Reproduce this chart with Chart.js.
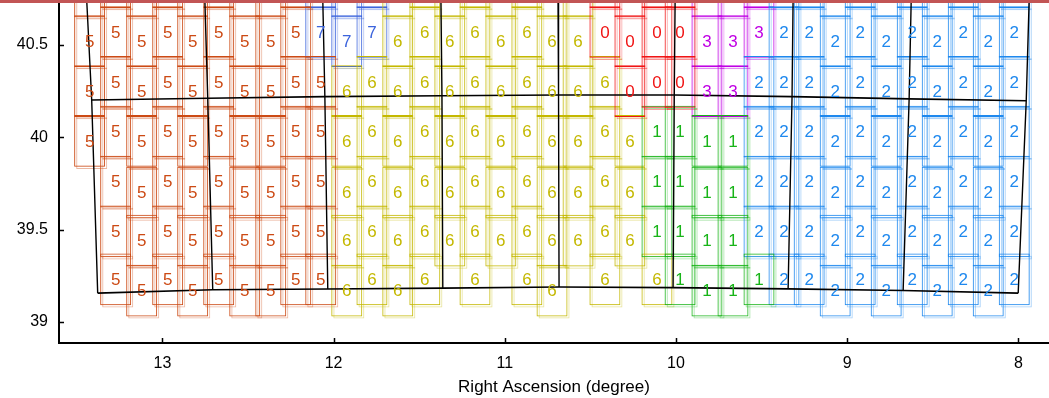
<!DOCTYPE html>
<html>
<head>
<meta charset="utf-8">
<title>Right Ascension fields</title>
<script src="https://cdn.jsdelivr.net/npm/chart.js"></script>
<style>
  html, body { margin: 0; padding: 0; background: #fff; }
</style>
</head>
<body>
<canvas id="fieldChart" width="1049" height="398"></canvas>
<script>
// tick labels
const xTicks = [8, 9, 10, 11, 12, 13];
const yTicks = [39, 39.5, 40, 40.5];

// tile columns (RA of the column centre), U = high row set, D = low row set
const columnRA = [13.425, 13.273, 13.121, 12.969, 12.823, 12.671, 12.519, 12.367, 12.221, 12.075,
  11.923, 11.776, 11.625, 11.467, 11.321, 11.174, 11.023, 10.871, 10.724, 10.572,
  10.415, 10.269, 10.111, 9.976, 9.819, 9.667, 9.515, 9.369, 9.222, 9.070,
  8.924, 8.772, 8.620, 8.474, 8.322, 8.176, 8.024];
const columnSet = 'DUDUDUDDUU' + 'DUDUDUDUDD' + 'UDUUDDUUUD' + 'UDUDUDU';

// Dec of tile centres, row 0 (above the frame) to row 6
const decUp = [40.84, 40.57, 40.30, 40.03, 39.76, 39.49, 39.23];
const decDown = [40.79, 40.52, 40.25, 39.98, 39.70, 39.44, 39.17];

// group number of each tile, row 0..6 ('.' = no tile)
const columnGroups = [
  '5555...', '5555555', '5555555', '5555555', '5555555', '5555555', '5555555', '5555555', '5555555',
  '7755555', '7766666', '7766666', '6666666', '6666666', '666666.', '6666666', '666666.', '6666666',
  '6666666', '666666.', '0066666', '000666.', '0001116', '0001111', '3331111', '3331111', '3322221',
  '2222222', '2222222', '2222222', '2222222', '2222222', '2222222', '2222222', '2222222', '2222222', '2222222'
];
const groupColors = {
  '0': '#f01414', '1': '#18b418', '2': '#1e88ee', '3': '#c000e4',
  '5': '#cc4a14', '6': '#c4b800', '7': '#3c64dc'
};

// survey boundary: top ends, middle crossing and bottom ends of the vertical edges
const vTopDec = 40.74;
const vTopRA = [13.442, 12.752, 12.063, 11.373, 10.689, 10.005, 9.316, 8.626, 7.937];
const midRA = [13.413, 12.735, 12.051, 11.367, 10.686, 10.010, 9.322, 8.638, 7.954];
const midDec = [40.202, 40.211, 40.220, 40.225, 40.229, 40.229, 40.220, 40.208, 40.198];
const lowRA = [13.378, 12.706, 12.034, 11.362, 10.683, 10.017, 9.345, 8.673, 8.001];
const lowDec = [39.156, 39.174, 39.178, 39.183, 39.189, 39.186, 39.179, 39.170, 39.156];

const FONT = "'Liberation Sans', Arial, Helvetica, sans-serif";
const tileHalfH = 0.14;
const ditherRA = 0.012, ditherDec = 0.012;

// collect tiles by group
const tiles = {};
columnRA.forEach((ra, c) => {
  const decs = columnSet[c] === 'D' ? decDown : decUp;
  columnGroups[c].split('').forEach((g, r) => {
    if (g === '.') return;
    (tiles[g] = tiles[g] || []).push({ ra: ra, dec: decs[r], g: g });
  });
});

function alpha(hex, a) {
  const n = parseInt(hex.slice(1), 16);
  return 'rgba(' + (n >> 16) + ',' + ((n >> 8) & 255) + ',' + (n & 255) + ',' + a + ')';
}

const datasets = [];
Object.keys(tiles).forEach(g => {
  const base = { type: 'bar', grouped: false, barThickness: 31, borderWidth: 1, borderSkipped: false,
    backgroundColor: 'rgba(0,0,0,0)', inflateAmount: 0, clip: 0, order: 2 };
  datasets.push(Object.assign({}, base, {
    data: tiles[g].map(t => ({ x: t.ra, y: [t.dec - tileHalfH, t.dec + tileHalfH] })),
    borderColor: groupColors[g]
  }));
  datasets.push(Object.assign({}, base, {
    data: tiles[g].map(t => ({ x: t.ra - ditherRA, y: [t.dec - ditherDec - tileHalfH, t.dec - ditherDec + tileHalfH] })),
    borderColor: alpha(groupColors[g], 0.4), order: 3
  }));
});

const lineStyle = { type: 'line', borderColor: '#000', borderWidth: 1.6, pointRadius: 0, fill: false, tension: 0, order: 1 };
datasets.push(Object.assign({}, lineStyle, { data: midRA.map((ra, i) => ({ x: ra, y: midDec[i] })) }));
datasets.push(Object.assign({}, lineStyle, { data: lowRA.map((ra, i) => ({ x: ra, y: lowDec[i] })) }));
vTopRA.forEach((ra, k) => {
  datasets.push(Object.assign({}, lineStyle, { borderWidth: 1.4, data: [
    { x: ra, y: vTopDec }, { x: midRA[k], y: midDec[k] }, { x: lowRA[k], y: lowDec[k] }
  ] }));
});

// tile numbers, inward ticks, page band
const decorations = {
  id: 'decorations',
  beforeDraw(chart) {
    const c = chart.ctx;
    c.save();
    c.fillStyle = '#fff';
    c.fillRect(0, 0, chart.width, chart.height);
    c.restore();
  },
  afterDatasetsDraw(chart) {
    const c = chart.ctx, a = chart.chartArea, xs = chart.scales.x, ys = chart.scales.y;
    c.save();
    c.beginPath();
    c.rect(a.left, a.top, a.right - a.left, a.bottom - a.top);
    c.clip();
    c.font = '17px ' + FONT;
    c.textAlign = 'center';
    c.textBaseline = 'middle';
    Object.keys(tiles).forEach(g => {
      c.fillStyle = groupColors[g];
      tiles[g].forEach(t => c.fillText(g, xs.getPixelForValue(t.ra), ys.getPixelForValue(t.dec) + 1));
    });
    c.restore();
  },
  afterDraw(chart) {
    const c = chart.ctx, a = chart.chartArea, xs = chart.scales.x, ys = chart.scales.y;
    c.save();
    c.strokeStyle = '#000';
    c.lineWidth = 1.5;
    c.beginPath();
    xTicks.forEach(v => { const p = Math.round(xs.getPixelForValue(v)) + 0.5; c.moveTo(p, a.bottom); c.lineTo(p, a.bottom - 5); });
    yTicks.forEach(v => { const p = Math.round(ys.getPixelForValue(v)) + 0.5; c.moveTo(a.left, p); c.lineTo(a.left + 5, p); });
    c.stroke();
    c.fillStyle = '#c25555';
    c.fillRect(0, 0, chart.width, 3);
    c.restore();
  }
};

new Chart(document.getElementById('fieldChart'), {
  type: 'bar',
  data: { datasets: datasets },
  plugins: [decorations],
  options: {
    responsive: false,
    animation: false,
    events: [],
    layout: { padding: { top: 3, right: 0, left: 0, bottom: 0 } },
    plugins: { legend: { display: false }, tooltip: { enabled: false } },
    scales: {
      x: {
        type: 'linear', position: 'bottom', reverse: true, offset: false,
        min: 7.821, max: 13.604,
        afterBuildTicks: s => { s.ticks = xTicks.map(v => ({ value: v })); },
        afterFit: s => { s.height = 55; s.paddingLeft = 0; s.paddingRight = 0; },
        grid: { display: false, drawTicks: false },
        border: { display: true, color: '#000', width: 2 },
        ticks: { color: '#000', padding: 11, font: { family: FONT, size: 16 }, callback: v => String(v) },
        title: { display: true, text: 'Right Ascension (degree)', color: '#000',
          font: { family: FONT, size: 17 }, padding: { top: 0, bottom: 0 } }
      },
      y: {
        type: 'linear', min: 38.886, max: 40.727,
        afterBuildTicks: s => { s.ticks = yTicks.map(v => ({ value: v })); },
        afterFit: s => { s.width = 59; s.paddingTop = 0; s.paddingBottom = 0; },
        grid: { display: false, drawTicks: false },
        border: { display: true, color: '#000', width: 2 },
        ticks: { color: '#000', padding: 11, font: { family: FONT, size: 16 }, callback: v => String(v) }
      }
    }
  }
});
</script>
</body>
</html>
